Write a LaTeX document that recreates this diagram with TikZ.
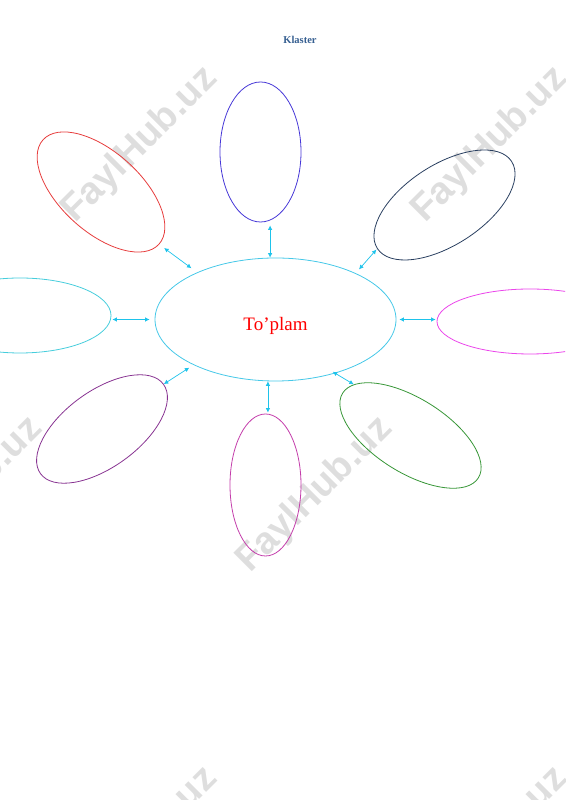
\documentclass[tikz,border=0pt]{standalone}
\usepackage{fontspec}
\setmainfont{Liberation Serif}
\newfontfamily\wmfont{Liberation Sans}
\usetikzlibrary{shapes.geometric,arrows.meta}

\definecolor{hubcyan}{RGB}{70,200,232}
\definecolor{linkcyan}{RGB}{30,195,235}
\definecolor{titleblue}{RGB}{54,95,145}
\definecolor{wmgray}{RGB}{222,222,222}
\definecolor{petalblue}{RGB}{70,55,215}
\definecolor{petalred}{RGB}{230,60,60}
\definecolor{petalnavy}{RGB}{40,62,95}
\definecolor{petalcyan}{RGB}{70,205,220}
\definecolor{petalpink}{RGB}{235,70,235}
\definecolor{petalpurple}{RGB}{135,50,145}
\definecolor{petalgreen}{RGB}{55,150,55}
\definecolor{petalviolet}{RGB}{195,60,170}

\tikzset{
  petal/.style={ellipse, draw, line width=0.8pt, inner sep=0pt},
  link/.style={{Latex[length=4.5pt,width=4.5pt]}-{Latex[length=4.5pt,width=4.5pt]}, draw=linkcyan, line width=0.7pt},
  wmark/.style={text=wmgray, font=\wmfont\bfseries\fontsize{38}{38}\selectfont, rotate=45}
}

\begin{document}
\begin{tikzpicture}[x=1pt,y=1pt]
        \useasboundingbox (0,0) rectangle (565,800);
        \clip (0,0) rectangle (565,800);

        % Watermark in the background
        \foreach \x/\y [count=\i] in {140/655, 490/655, -35/305, 315/305, 140/-45, 490/-45}
          {\node[wmark] (wm\i) at (\x,\y) {FaylHub.uz};}

        % Title
        \node[text=titleblue, font=\bfseries\fontsize{10.5}{12}\selectfont] (title) at (300,760) {Klaster};

        % Central ellipse
        \node[petal, draw=hubcyan, minimum width=241, minimum height=123] (cent) at (275.5,480.5) {};
        \node[text=red, font=\fontsize{19}{22}\selectfont] (lbl) at (275.5,474) {To’plam};

        % Ellipses round it
        \node[petal, draw=petalblue, minimum width=81, minimum height=140] (top) at (260.5,648) {};
        \node[petal, draw=petalred, minimum width=156, minimum height=80, rotate=-42] (red) at (101,608) {};
        \node[petal, draw=petalnavy, minimum width=160, minimum height=80, rotate=33] (navy) at (444.5,595) {};
        \node[petal, draw=petalcyan, minimum width=182, minimum height=75] (lft) at (20,484.5) {};
        \node[petal, draw=petalpink, minimum width=186, minimum height=65] (rgt) at (530,478.5) {};
        \node[petal, draw=petalpurple, minimum width=152, minimum height=76, rotate=36] (purp) at (102,371) {};
        \node[petal, draw=petalgreen, minimum width=160, minimum height=74, rotate=-32] (green) at (410.5,364.5) {};
        \node[petal, draw=petalviolet, minimum width=71, minimum height=142] (bot) at (265.5,315) {};

        % Double arrows to the centre
        \draw[link, shorten <=3pt] (cent.95 |- top.south) -- (cent.95);
        \draw[link, shorten <=6pt, shorten >=7pt] (red.east) -- (cent.149);
        \draw[link, shorten <=1pt, shorten >=5pt] (navy.west) -- (cent.30);
        \draw[link, shorten <=1pt, shorten >=5pt] (lft.east |- cent.west) -- (cent.west);
        \draw[link, shorten <=1pt, shorten >=3pt] (rgt.west |- cent.east) -- (cent.east);
        \draw[link, shorten >=5pt] (purp.east) -- (cent.209);
        \draw[link, shorten >=-3pt] (green.170) -- (cent.318);
        \draw[link, shorten <=1pt] (bot.north -| cent.263) -- (cent.263);

\end{tikzpicture}
\end{document}
